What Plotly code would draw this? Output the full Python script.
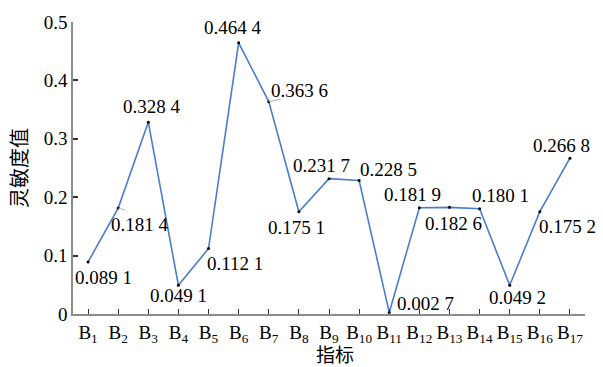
import plotly.graph_objects as go

categories = ["B<sub>%d</sub>" % i for i in range(1, 18)]
values = [0.0891, 0.1814, 0.3284, 0.0491, 0.1121, 0.4644, 0.3636, 0.1751, 0.2317,
          0.2285, 0.0027, 0.1819, 0.1826, 0.1801, 0.0492, 0.1752, 0.2668]
labels = ["0.089 1", "0.181 4", "0.328 4", "0.049 1", "0.112 1", "0.464 4", "0.363 6",
          "0.175 1", "0.231 7", "0.228 5", "0.002 7", "0.181 9", "0.182 6", "0.180 1",
          "0.049 2", "0.175 2", "0.266 8"]
y_ticks = [0, 0.1, 0.2, 0.3, 0.4, 0.5]
y_ticktext = ["0", "0.1", "0.2", "0.3", "0.4", "0.5"]

# label offsets in pixels (dx, dy-up)
offsets = [(15, -16), (22, -16), (4, 16), (0, -10), (26, -15), (-6, 15), (31, 11),
           (-2, -16), (-8, 13), (29, 11), (36, 9), (-7, 13), (4, -16), (21, 13),
           (8, -12), (28, -15), (-8, 13)]
# faint leader lines (index, dx, dy-down) in pixels
leaders = [(1, 10, 3), (6, 15, -3)]

serif = "'Liberation Serif', 'Times New Roman', serif"
cjk = "'Noto Sans CJK SC', sans-serif"

fig = go.Figure()
fig.add_trace(go.Scatter(
    x=categories, y=values, mode="lines+markers",
    line=dict(color="#4a7dd0", width=1.6),
    marker=dict(color="black", size=3),
    showlegend=False, cliponaxis=False,
))

for i, dx, dy in leaders:
    fig.add_annotation(x=categories[i], y=values[i], text=" ", showarrow=True,
                       arrowhead=0, arrowwidth=1, arrowcolor="#b0b0b0",
                       ax=dx, ay=dy, standoff=0, startstandoff=0)

for c, v, t, (dx, dy) in zip(categories, values, labels, offsets):
    fig.add_annotation(x=c, y=v, text=t, showarrow=False, xshift=dx, yshift=dy,
                       font=dict(family=serif, size=19, color="black"))

# axis titles
fig.add_annotation(xref="paper", yref="paper", x=0.5, xshift=6, y=0, yshift=-39,
                   yanchor="middle", text="指标", showarrow=False,
                   font=dict(family=cjk, size=19, color="black"))
fig.add_annotation(xref="paper", yref="paper", x=0, xshift=-55, y=0.5, xanchor="center",
                   textangle=-90, text="灵敏度值", showarrow=False,
                   font=dict(family=cjk, size=20, color="black"))

fig.update_layout(
    width=603, height=367,
    margin=dict(l=73, r=18, t=17, b=53),
    plot_bgcolor="white", paper_bgcolor="white",
    font=dict(family=serif),
    xaxis=dict(
        type="category", range=[-0.5, 16.5],
        showline=True, linecolor="#8c8c8c", linewidth=1.5,
        ticks="inside", ticklen=5, tickcolor="#333", tickwidth=1,
        tickfont=dict(family=serif, size=19, color="black"),
        showgrid=False, zeroline=False,
    ),
    yaxis=dict(
        range=[0, 0.5], tickvals=y_ticks, ticktext=y_ticktext,
        showline=True, linecolor="#8c8c8c", linewidth=1.5,
        ticks="inside", ticklen=5, tickcolor="#333", tickwidth=1.5,
        tickfont=dict(family=serif, size=19, color="black"),
        showgrid=False, zeroline=False,
    ),
)

fig.write_html("out.html", config={"displayModeBar": False},
               post_script="document.body.style.margin='0';document.body.style.overflow='hidden';")
